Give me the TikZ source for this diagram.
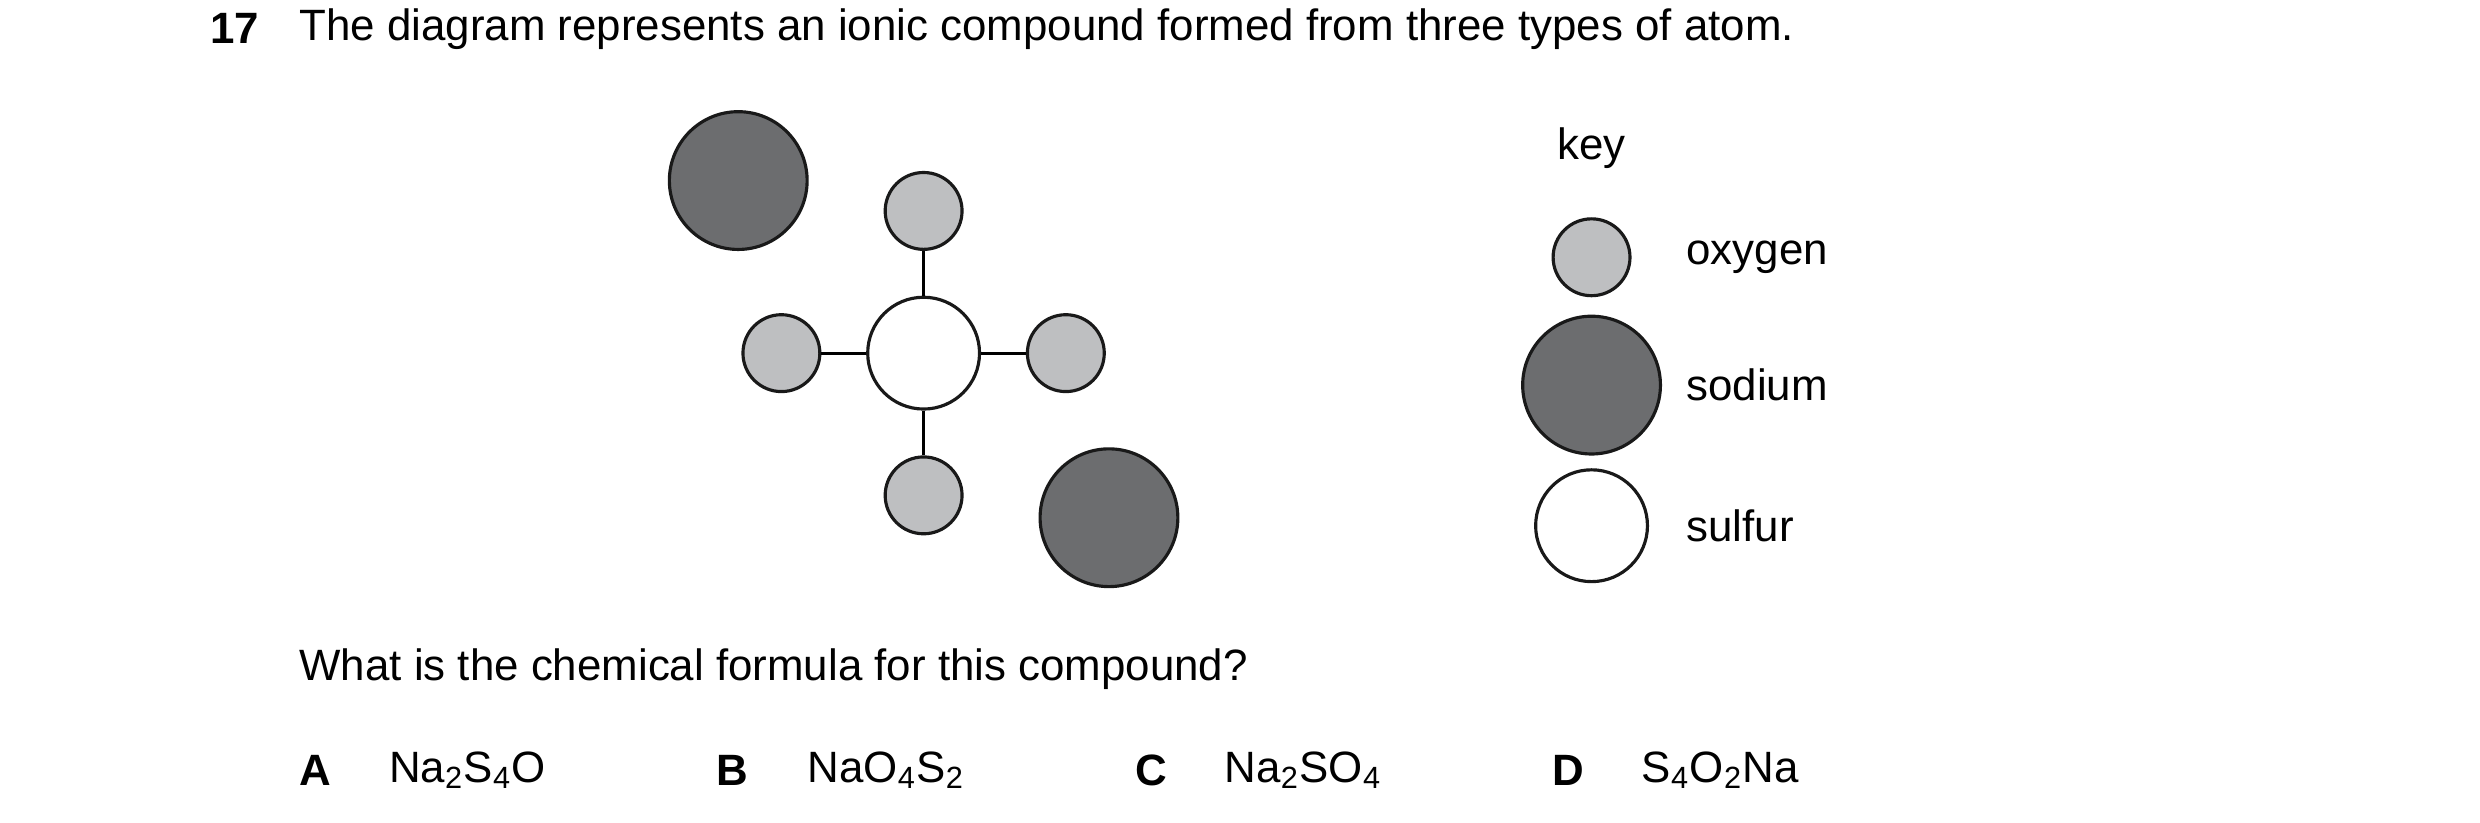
\documentclass[tikz,border=0pt]{standalone}
\usepackage{fontspec}
\setmainfont{Liberation Sans}
\usepackage{tikz}
\definecolor{oxgrey}{RGB}{190,191,193}
\definecolor{nagrey}{RGB}{108,109,111}
\newcommand{\chemsub}[1]{\textsubscript{#1}}
\tikzset{
  atom/.style={circle, draw=black!90, line width=0.9pt, inner sep=0pt},
  oxy/.style={atom, fill=oxgrey, minimum size=0.77cm},
  sod/.style={atom, fill=nagrey, minimum size=1.38cm},
  sul/.style={atom, fill=white, minimum size=1.12cm},
  txt/.style={anchor=west, inner sep=0pt, font=\fontsize{12.5}{15}\selectfont}
}
\begin{document}
\begin{tikzpicture}[x=0.016cm, y=-0.016cm]
        \useasboundingbox (0,0) rectangle (1552,515);

        % question
        \node[txt] (num) at (131,18) {\textbf{17}};
        \node[txt] (q) at (187,18) {The diagram represents an ionic compound formed from three types of atom.};

        % the ions
        \node[sod] (na1) at (462,113) {};
        \node[sod] (na2) at (694,324) {};
        \node[sul] (s) at (578,221) {};
        \node[oxy] (ot) at (578,132) {};
        \node[oxy] (ol) at (489,221) {};
        \node[oxy] (or) at (667,221) {};
        \node[oxy] (ob) at (578,310) {};
        \draw[line width=0.9pt] (s) -- (ot);
        \draw[line width=0.9pt] (s) -- (ol);
        \draw[line width=0.9pt] (s) -- (or);
        \draw[line width=0.9pt] (s) -- (ob);

        % key
        \node[txt] (key) at (974,93) {key};
        \node[oxy] (ko) at (996,161) {};
        \node[txt] (kot) at (1055,161) {oxygen};
        \node[sod] (kn) at (996,241) {};
        \node[txt] (knt) at (1055,241) {sodium};
        \node[sul] (ks) at (996,329) {};
        \node[txt] (kst) at (1055,329) {sulfur};

        \node[txt] (q2) at (187,419) {What is the chemical formula for this compound?};

        % options
        \node[txt] (la) at (187,482) {\textbf{A}};
        \node[txt] (fa) at (243,482) {Na\chemsub{2}S\chemsub{4}O};
        \node[txt] (lb) at (448,482) {\textbf{B}};
        \node[txt] (fb) at (505,482) {NaO\chemsub{4}S\chemsub{2}};
        \node[txt] (lc) at (710,482) {\textbf{C}};
        \node[txt] (fc) at (766,482) {Na\chemsub{2}SO\chemsub{4}};
        \node[txt] (ld) at (971,482) {\textbf{D}};
        \node[txt] (fd) at (1027,482) {S\chemsub{4}O\chemsub{2}Na};
\end{tikzpicture}
\end{document}
